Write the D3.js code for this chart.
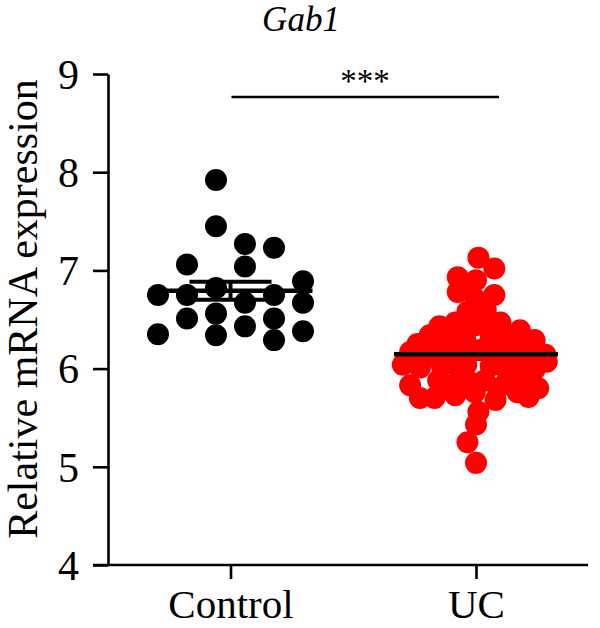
<!DOCTYPE html>
<html>
<head>
<meta charset="utf-8">
<script src="https://cdn.jsdelivr.net/npm/d3@7"></script>
<style>
  body { margin: 0; background: #fff; }
  text { font-family: "Liberation Serif", serif; }
</style>
</head>
<body>
<script>
var categories = ["Control", "UC"];
var yTicks = [4, 5, 6, 7, 8, 9];

// Control points: value and swarm column
var controlValues = [7.92, 7.45, 7.27, 7.23, 7.06, 7.04, 6.89, 6.75, 6.75, 6.82, 6.75,
	6.67, 6.67, 6.51, 6.56, 6.51, 6.43, 6.35, 6.34, 6.38, 6.29];
var controlSlots = [-0.5, -0.5, 0.5, 1.5, -1.5, 0.5, 2.5, -2.5, -1.5, -0.5, 1.5,
	0.5, 2.5, -1.5, -0.5, 1.5, 0.5, -2.5, -0.5, 2.5, 1.5];

// UC points
var ucValues = [7.13, 7.02, 6.93, 6.90, 6.78, 6.75, 6.70, 6.60, 6.58, 6.43, 6.34, 6.25,
	6.47, 6.44, 6.47, 6.39, 6.29, 6.31, 6.31, 6.31, 6.27, 6.17, 6.14, 6.14, 6.17, 6.19,
	6.17, 6.17, 6.04, 6.07, 6.01, 6.03, 6.04, 6.03, 6.03, 5.99, 5.83, 5.88, 5.90, 5.88,
	5.90, 5.88, 5.80, 5.70, 5.70, 5.73, 5.76, 5.68, 5.76, 5.71, 5.56, 5.43, 5.25, 5.04,
	6.39, 6.39, 6.80, 5.83, 5.86, 5.80, 5.88, 6.04, 6.04, 6.19, 6.17, 6.19, 6.24, 6.44,
	6.41];
var ucSlots = [0.2, 1.5, -1.5, 0, -1.5, 1.5, 0, 0.8, -0.7, -3.0, -3.8, -4.8,
	-1.7, -0.1, 2.0, 3.6, 4.8, 2.8, 1.2, -0.9, -2.5, -5.4, 5.7, -3.8, -1.7, 0.3,
	2.4, 4.2, -6.0, 5.8, -4.6, -2.8, -0.8, 1.2, 3.2, 4.8, -5.4, -3.1, -1.3, 0.7,
	2.6, 4.4, 5.1, -4.6, -3.4, -1.7, -0.1, 1.6, 3.4, 4.3, 0.2, 0, -0.7, 0,
	-2.5, 2.0, -0.5, -2.1, -0.5, 1.8, 3.6, -1.7, 2.0, -0.9, 1.4, 3.4, -3.8, 1.0,
	-1.1];

var groups = [
	{name: categories[0], values: controlValues, slots: controlSlots, color: "#000000", slotWidth: 29},
	{name: categories[1], values: ucValues, slots: ucSlots, color: "#ff0000", slotWidth: 12.2}
];

var width = 600, height = 628;
var axisLeft = 108, axisRight = 588, plotTop = 74, plotBottom = 565;
var r = 11;

var svg = d3.select("body").append("svg")
	.attr("width", width)
	.attr("height", height);

var yScale = d3.scaleLinear()
	.domain([4, 9])
	.range([plotBottom, plotTop]);

var xScale = d3.scalePoint()
	.domain(categories)
	.range([230.5, 476]);

// y axis
var yAxis = svg.append("g")
	.attr("transform", "translate(" + axisLeft + ",0)")
	.call(d3.axisLeft(yScale).tickValues(yTicks).tickFormat(d3.format("d"))
		.tickSize(15).tickPadding(14).tickSizeOuter(0));
yAxis.select(".domain").attr("stroke-width", 2.6);
yAxis.selectAll(".tick line").attr("stroke-width", 2.6);
yAxis.selectAll(".tick text").style("font-size", "42px").attr("fill", "#000").attr("dy", "0.34em");

// x axis
svg.append("line")
	.attr("x1", axisLeft - 15).attr("x2", axisRight)
	.attr("y1", plotBottom).attr("y2", plotBottom)
	.attr("stroke", "#000").attr("stroke-width", 2.6);
var xAxis = svg.append("g")
	.attr("transform", "translate(0," + plotBottom + ")")
	.call(d3.axisBottom(xScale).tickSize(14).tickSizeOuter(0));
xAxis.select(".domain").remove();
xAxis.selectAll(".tick line").attr("stroke-width", 2.6);
xAxis.selectAll(".tick text")
	.attr("y", 53).attr("dy", null)
	.style("font-size", "41px").attr("fill", "#000");

// error bars (SEM) behind the dots
groups.forEach(function(g) {
	var m = d3.mean(g.values);
	var sem = d3.deviation(g.values) / Math.sqrt(g.values.length);
	var cx = xScale(g.name);
	var eb = svg.append("g").attr("stroke", "#000").attr("stroke-width", 4);
	eb.append("line").attr("x1", cx).attr("x2", cx).attr("y1", yScale(m + sem)).attr("y2", yScale(m - sem));
	[m + sem, m - sem].forEach(function(v) {
		eb.append("line").attr("x1", cx - 41).attr("x2", cx + 41).attr("y1", yScale(v)).attr("y2", yScale(v));
	});
});

// dots
groups.forEach(function(g) {
	svg.append("g").selectAll("circle")
		.data(g.values)
		.enter().append("circle")
			.attr("cx", function(d, i) { return xScale(g.name) + g.slots[i] * g.slotWidth; })
			.attr("cy", function(d) { return yScale(d); })
			.attr("r", r)
			.attr("fill", g.color);
});

// mean lines on top
groups.forEach(function(g) {
	var m = d3.mean(g.values);
	var cx = xScale(g.name);
	svg.append("line")
		.attr("x1", cx - 82).attr("x2", cx + 82)
		.attr("y1", yScale(m)).attr("y2", yScale(m))
		.attr("stroke", "#000").attr("stroke-width", 4.5);
});

// significance bar
svg.append("line")
	.attr("x1", xScale("Control") + 1).attr("x2", xScale("UC") + 23)
	.attr("y1", 97).attr("y2", 97)
	.attr("stroke", "#000").attr("stroke-width", 2.6);
svg.append("text")
	.attr("x", 365).attr("y", 92)
	.attr("text-anchor", "middle")
	.style("font-size", "33px")
	.text("***");

// title
svg.append("text")
	.attr("x", 301).attr("y", 31)
	.attr("text-anchor", "middle")
	.style("font-size", "35px")
	.style("font-style", "italic")
	.text("Gab1");

// y label
svg.append("text")
	.attr("transform", "translate(37,309) rotate(-90)")
	.attr("text-anchor", "middle")
	.style("font-size", "42px")
	.text("Relative mRNA expression");
</script>
</body>
</html>
